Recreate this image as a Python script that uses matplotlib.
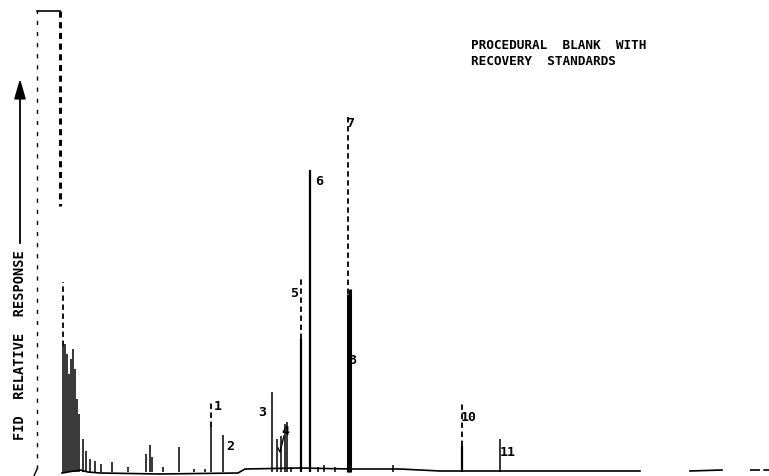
import matplotlib
matplotlib.use("Agg")
import matplotlib.pyplot as plt

# Chromatogram: x = retention position, h = response above zero
peak_x = [63, 65, 67, 69, 71, 73, 75, 77, 79, 83, 86, 90, 95, 101, 112, 128,
          146, 150, 152, 163, 179, 194, 205, 211, 223, 272, 277, 281, 285, 287,
          291, 301, 310, 318, 324, 335, 348, 350, 393, 462, 500]
peak_h = [194, 132, 122, 102, 117, 127, 107, 77, 62, 37, 25, 17, 15, 12, 14, 9,
          22, 31, 19, 9, 29, 7, 7, 73, 41, 84, 37, 40, 52, 54,
          9, 197, 306, 9, 11, 9, 362, 187, 11, 73, 37]
# heights above which the trace prints broken (dashed) on the scan
dash_x = [63, 211, 301, 348, 462]
dash_from = [130, 49, 137, 182, 30]

base_x = [62, 80, 88, 100, 160, 238, 245, 300, 350, 400, 440, 500, 560, 640]
base_h = [3, 6, 4, 3, 2, 3, 7, 8, 7, 7, 5, 5, 5, 5]
tail_x = [[690, 722], [750, 769]]
tail_h = [[5, 6], [6, 6]]

solvent_x = [37, 37, 60, 60]
solvent_h = [7, 465, 465, 270]

labels = ["1", "2", "3", "4", "5", "6", "7", "8", "10", "11"]
label_pos = [(214, 64), (226, 24), (258, 58), (281, 39), (290, 177),
             (315, 289), (346, 347), (348, 110), (461, 53), (500, 18)]

title = "PROCEDURAL  BLANK  WITH\nRECOVERY  STANDARDS"
ylabel = "FID  RELATIVE  RESPONSE"

fig = plt.figure(figsize=(7.69, 4.77), dpi=100)
ax = fig.add_axes([0, 0, 1, 1])
ax.set_xlim(0, 769)
ax.set_ylim(0, 477)
ax.axis("off")
mono = "DejaVu Sans Mono"

# baseline pieces
ax.plot(base_x, base_h, color="black", lw=1.2)
for tx, th in zip(tail_x, tail_h):
    ax.plot(tx, th, color="black", lw=1.2, ls=(0, (6, 2)) if tx[0] > 740 else "-")

# solvent front (off scale)
ax.plot(solvent_x[:2], solvent_h[:2], color="black", lw=1.0, ls=(0, (3, 5)))
ax.plot(solvent_x[1:3], solvent_h[1:3], color="black", lw=1.2)
ax.plot(solvent_x[2:], solvent_h[2:], color="black", lw=2.2, ls=(0, (2, 1.5)))
ax.plot([34, 37], [0, 7], color="black", lw=1.0)

# peaks
for x, h in zip(peak_x, peak_h):
    top = h
    if x in dash_x:
        d = dash_from[dash_x.index(x)]
        ax.vlines(x, d, h, color="black", lw=1.3, linestyles=(0, (3, 2)))
        top = d
    lw = 2.2 if x in (348, 350) else (1.6 if x in (301, 310, 462) else 1.1)
    ax.vlines(x, 4, top, color="black", lw=lw)

# peak 4 hook
ax.plot([278, 280, 284], [28, 24, 40], color="black", lw=1.0)

for lab, (lx, ly) in zip(labels, label_pos):
    ax.text(lx, ly, lab, fontsize=9.5, family=mono, weight="bold",
            va="bottom", ha="left")

ax.text(471, 438, title, fontsize=9.2, family=mono, weight="bold",
        va="top", ha="left", linespacing=1.3)

ax.text(20, 132, ylabel, fontsize=9.8, family=mono, weight="bold",
        rotation=90, ha="center", va="center")
ax.annotate("", xy=(20, 400), xytext=(20, 230),
            arrowprops=dict(arrowstyle="-|>,head_width=0.35,head_length=1.2",
                            color="black", lw=1.3))

fig.savefig("out.png", dpi=100)
